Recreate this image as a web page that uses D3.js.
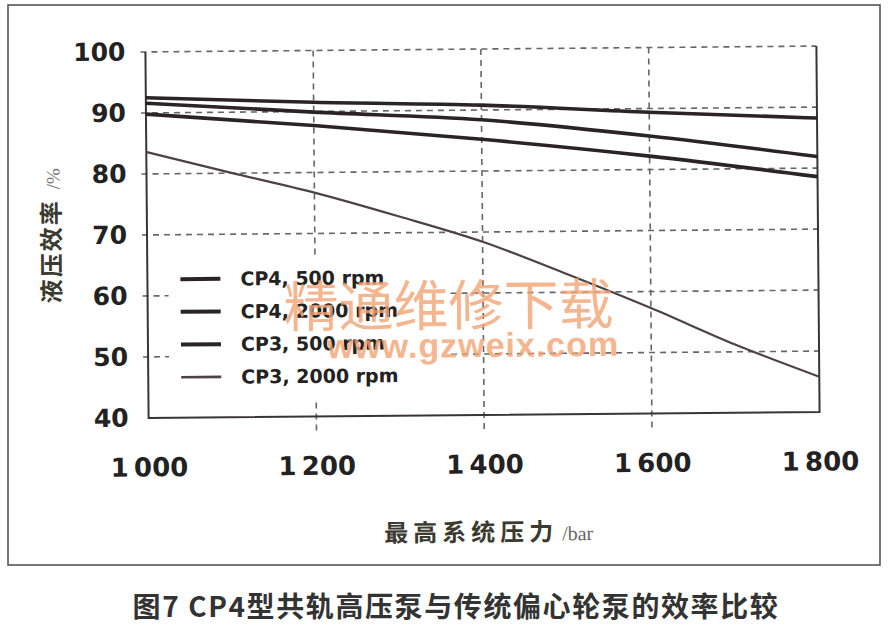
<!DOCTYPE html>
<html>
<head>
<meta charset="utf-8">
<script src="https://cdn.jsdelivr.net/npm/d3@7"></script>
<style>
  html, body { margin: 0; padding: 0; background: #ffffff; }
  svg { display: block; }
</style>
</head>
<body>
<svg id="chart" width="888" height="629"></svg>
<script>
// ---------- data ----------
const seriesNames = ["CP4, 500 rpm", "CP4, 2000 rpm", "CP3, 500 rpm", "CP3, 2000 rpm"];
const pressureMain = [1000, 1200, 1400, 1600, 1800];
const cp4_500  = [92.5, 91.5, 90.8, 89.4, 88.2];
const cp4_2000 = [91.6, 89.9, 88.4, 85.5, 81.9];
const cp3_500  = [89.8, 87.7, 85.2, 82.2, 78.6];
const pressureCp3_2000 = [1000, 1100, 1200, 1300, 1400, 1500, 1600, 1700, 1800];
const cp3_2000 = [83.6, 80.1, 76.7, 72.7, 68.4, 63.0, 57.3, 51.2, 45.8];
const xTicks = [1000, 1200, 1400, 1600, 1800];
const xTickLabels = ["1\u2009000", "1\u2009200", "1\u2009400", "1\u2009600", "1\u2009800"];
const yTicks = [40, 50, 60, 70, 80, 90, 100];
const yTitle = "液压效率";
const yUnit = "/%";
const xTitle = "最高系统压力";
const xUnit = "/bar";
const caption = "图7 CP4型共轨高压泵与传统偏心轮泵的效率比较";
const watermark1 = "精通维修下载";
const watermark2 = "www.gzweix.com";

// ---------- layout ----------
const svg = d3.select("#chart");
const L = 147, R = 818, T = 49, B = 415;
const x = d3.scaleLinear().domain([1000, 1800]).range([L, R]);
const y = d3.scaleLinear().domain([40, 100]).range([B, T]);

// outer frame
svg.append("rect")
  .attr("x", 8).attr("y", 5).attr("width", 872).attr("height", 560)
  .attr("fill", "none").attr("stroke", "#555").attr("stroke-width", 1.6);

const g = svg.append("g").attr("transform", "rotate(-0.5, 483, 232)");

const gridColor = "#666";
// horizontal gridlines
g.append("g").selectAll("line").data(yTicks.filter(v => v > 40)).join("line")
  .attr("x1", L - 5).attr("x2", R)
  .attr("y1", d => y(d)).attr("y2", d => y(d))
  .attr("stroke", gridColor).attr("stroke-width", 1.6)
  .attr("stroke-dasharray", "6,5");
// vertical gridlines
g.append("g").selectAll("line").data(xTicks.filter(v => v > 1000 && v < 1800)).join("line")
  .attr("x1", d => x(d)).attr("x2", d => x(d))
  .attr("y1", T).attr("y2", B + 18)
  .attr("stroke", gridColor).attr("stroke-width", 1.6)
  .attr("stroke-dasharray", "6,5");

// legend background (hides gridlines)
g.append("rect").attr("x", 168).attr("y", 255).attr("width", 280).attr("height", 143)
  .attr("fill", "#fff");

// axis frame lines (left, bottom, right)
g.append("path")
  .attr("d", `M${L},${T}V${B}H${R}V${T}`)
  .attr("fill", "none").attr("stroke", "#3a3434").attr("stroke-width", 2);

// axes (labels)
const yAxis = d3.axisLeft(y).tickValues(yTicks).tickSize(0).tickPadding(20).tickFormat(d3.format("d"));
const yg = g.append("g").attr("transform", `translate(${L},0)`).call(yAxis);
yg.select(".domain").remove();
yg.selectAll("text")
  .attr("font-family", "DejaVu Sans, sans-serif").attr("font-weight", "bold")
  .attr("font-size", 25).attr("fill", "#222");

const xAxis = d3.axisBottom(x).tickValues(xTicks).tickSize(0).tickPadding(40)
  .tickFormat((d, i) => xTickLabels[i]);
const xg = g.append("g").attr("transform", `translate(0,${B})`).call(xAxis);
xg.select(".domain").remove();
xg.selectAll("text")
  .attr("font-family", "DejaVu Sans, sans-serif").attr("font-weight", "bold")
  .attr("font-size", 26).attr("fill", "#222");

// series lines
const lineColor = "#2b2427";
const series = [
  { name: seriesNames[0], xs: pressureMain, ys: cp4_500, w: 3.6, c: lineColor },
  { name: seriesNames[1], xs: pressureMain, ys: cp4_2000, w: 3.6, c: lineColor },
  { name: seriesNames[2], xs: pressureMain, ys: cp3_500, w: 3.6, c: lineColor },
  { name: seriesNames[3], xs: pressureCp3_2000, ys: cp3_2000, w: 2.2, c: "#4e4247" }
];
const line = d3.line().x(d => x(d[0])).y(d => y(d[1])).curve(d3.curveMonotoneX);
g.append("g").selectAll("path").data(series).join("path")
  .attr("d", s => line(s.xs.map((v, i) => [v, s.ys[i]])))
  .attr("fill", "none").attr("stroke", s => s.c).attr("stroke-width", s => s.w)
  .attr("stroke-linejoin", "round");

// legend
const lg = g.append("g");
const rows = lg.selectAll("g").data(series).join("g")
  .attr("transform", (d, i) => `translate(180,${276.5 + i * 32.7})`);
rows.append("line").attr("x1", 0).attr("x2", 40).attr("y1", 0).attr("y2", 0)
  .attr("stroke", d => d.c).attr("stroke-width", d => d.w + 0.4);
rows.append("text").attr("x", 60).attr("y", 0).attr("dy", "0.36em")
  .attr("font-family", "DejaVu Sans, sans-serif").attr("font-weight", "bold")
  .attr("font-size", 19).attr("fill", "#222").text(d => d.name);

// y title (vertical)
const yt = g.append("text")
  .attr("transform", "translate(60,232) rotate(-90)")
  .attr("text-anchor", "middle");
yt.append("tspan").attr("font-family", "Noto Sans CJK SC").attr("font-weight", "bold")
  .attr("font-size", 24).attr("letter-spacing", 2).attr("fill", "#3b3a30").text(yTitle);
yt.append("tspan").attr("font-family", "Liberation Serif, serif").attr("font-size", 19)
  .attr("fill", "#777").attr("dx", 10).text(yUnit);

// x title
const xt = g.append("text").attr("x", 486).attr("y", 541).attr("text-anchor", "middle");
xt.append("tspan").attr("font-family", "Noto Sans CJK SC").attr("font-weight", "bold")
  .attr("font-size", 24).attr("letter-spacing", 5).attr("fill", "#3b3a30").text(xTitle);
xt.append("tspan").attr("font-family", "Liberation Serif, serif").attr("font-size", 20)
  .attr("fill", "#666").attr("dx", 4).text(xUnit);

// watermark
g.append("text").attr("x", 448).attr("y", 306).attr("dy", "0.35em").attr("text-anchor", "middle")
  .attr("font-family", "Noto Sans CJK SC").attr("font-weight", 400).attr("font-size", 55)
  .attr("fill", "#f2a374").attr("opacity", 0.8).text(watermark1);
g.append("text").attr("x", 472).attr("y", 357).attr("text-anchor", "middle")
  .attr("font-family", "Liberation Sans, Arial, sans-serif").attr("font-weight", "bold")
  .attr("font-size", 34).attr("letter-spacing", 1)
  .attr("fill", "#f2a374").attr("opacity", 0.8).text(watermark2);

// caption
svg.append("text").attr("x", 456).attr("y", 617).attr("text-anchor", "middle")
  .attr("font-family", "Noto Sans CJK SC").attr("font-weight", "bold")
  .attr("font-size", 28).attr("letter-spacing", 1.6).attr("fill", "#333").text(caption);
</script>
</body>
</html>
